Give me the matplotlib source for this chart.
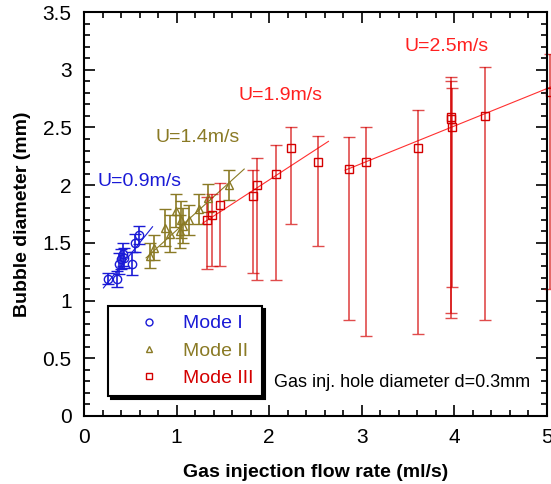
# Bubble diameter vs gas injection flow rate, three bubbling modes with fit lines.

import matplotlib.pyplot as plt
from matplotlib.lines import Line2D
from matplotlib.ticker import MultipleLocator

plt.rcParams['font.family'] = ['Liberation Sans', 'DejaVu Sans']

# Mode I (U=0.9m/s)
m1_x = [0.26, 0.36, 0.38, 0.40, 0.42, 0.43, 0.52, 0.55, 0.59]
m1_y = [1.19, 1.19, 1.32, 1.36, 1.40, 1.37, 1.32, 1.50, 1.57]
m1_err = [0.05, 0.07, 0.09, 0.09, 0.10, 0.09, 0.10, 0.08, 0.08]

# Mode II (U=1.4m/s)
m2_x = [0.71, 0.76, 0.87, 0.93, 0.99, 1.04, 1.05, 1.07, 1.13, 1.24, 1.34, 1.57]
m2_y = [1.39, 1.46, 1.63, 1.58, 1.78, 1.60, 1.70, 1.65, 1.70, 1.79, 1.89, 2.00]
m2_err = [0.11, 0.11, 0.16, 0.16, 0.14, 0.14, 0.16, 0.15, 0.13, 0.13, 0.12, 0.13]

# Mode III (U=1.9 and 2.5m/s), asymmetric bars
m3_x = [1.33, 1.38, 1.47, 1.83, 1.87, 2.07, 2.23, 2.53, 2.86, 3.05, 3.61,
        3.96, 3.96, 3.97, 4.33, 5.03]
m3_y = [1.70, 1.74, 1.83, 1.91, 2.00, 2.10, 2.32, 2.20, 2.14, 2.20, 2.32,
        2.59, 2.57, 2.50, 2.60, 2.81]
m3_top = [1.90, 1.92, 2.02, 2.13, 2.24, 2.35, 2.50, 2.43, 2.42, 2.50, 2.65,
          2.94, 2.90, 2.84, 3.02, 3.14]
m3_bot = [1.27, 1.30, 1.30, 1.24, 1.18, 1.18, 1.66, 1.47, 0.83, 0.69, 0.71,
          0.89, 0.85, 1.12, 0.83, 1.10]

# fit lines (end points)
fit1_x, fit1_y = [0.21, 0.74], [1.11, 1.64]
fit2_x, fit2_y = [0.67, 1.73], [1.37, 2.14]
fit3a_x, fit3a_y = [1.28, 2.64], [1.67, 2.38]
fit3b_x, fit3b_y = [2.82, 5.07], [2.13, 2.86]

blue = '#1a1ad6'
olive = '#8a7a25'
red = '#d40000'

fig = plt.figure(figsize=(5.51, 4.84), dpi=100)
ax = fig.add_axes([0.1525, 0.1405, 0.8402, 0.8345])

ax.plot(fit1_x, fit1_y, color=blue, lw=0.8)
ax.plot(fit2_x, fit2_y, color=olive, lw=0.8)
ax.plot(fit3a_x, fit3a_y, color='#ff3030', lw=0.8)
ax.plot(fit3b_x, fit3b_y, color='#ff3030', lw=0.8, clip_on=False)

ax.errorbar(m1_x, m1_y, yerr=m1_err, fmt='o', mfc='none', mec=blue, ms=6,
            mew=1.0, ecolor=blue, elinewidth=1.2, capsize=4, capthick=1.2)
ax.errorbar(m2_x, m2_y, yerr=m2_err, fmt='^', mfc='none', mec=olive, ms=6,
            mew=1.0, ecolor=olive, elinewidth=1.2, capsize=4, capthick=1.2)
lo = [y - b for y, b in zip(m3_y, m3_bot)]
hi = [t - y for y, t in zip(m3_y, m3_top)]
eb = ax.errorbar(m3_x, m3_y, yerr=[lo, hi], fmt='s', mfc='none', mec=red, ms=6,
                 mew=1.0, ecolor=red, elinewidth=1.2, capsize=4, capthick=1.2)
for part in eb.lines[1] + eb.lines[2]:
    part.set_alpha(0.7)
    part.set_clip_on(False)
eb.lines[0].set_clip_on(False)

ax.text(0.145, 2.03, 'U=0.9m/s', color=blue, fontsize=14, va='center')
ax.text(0.77, 2.415, 'U=1.4m/s', color=olive, fontsize=14, va='center')
ax.text(1.67, 2.78, 'U=1.9m/s', color='#ff2020', fontsize=14, va='center')
ax.text(3.46, 3.20, 'U=2.5m/s', color='#ff2020', fontsize=14, va='center')
ax.text(2.05, 0.29, 'Gas inj. hole diameter d=0.3mm', color='black',
        fontsize=13, va='center')

ax.set_xlim(0, 5)
ax.set_ylim(0, 3.5)
ax.xaxis.set_major_locator(MultipleLocator(1))
ax.xaxis.set_minor_locator(MultipleLocator(0.2))
ax.yaxis.set_major_locator(MultipleLocator(0.5))
ax.yaxis.set_minor_locator(MultipleLocator(0.1))
ax.set_xticks([0, 1, 2, 3, 4, 5], ['0', '1', '2', '3', '4', '5'])
ax.set_yticks([0, 0.5, 1, 1.5, 2, 2.5, 3, 3.5],
              ['0', '0.5', '1', '1.5', '2', '2.5', '3', '3.5'])
ax.tick_params(which='both', direction='in', top=True, right=True, labelsize=15,
               width=1.2)
ax.tick_params(which='major', length=8, pad=9)
ax.tick_params(which='minor', length=4)
for s in ax.spines.values():
    s.set_linewidth(1.5)

ax.set_xlabel('Gas injection flow rate (ml/s)', fontsize=14, fontweight='bold',
              labelpad=12)
ax.set_ylabel('Bubble diameter (mm)', fontsize=14, fontweight='bold',
              labelpad=8)

handles = [Line2D([], [], ls='none', marker='o', mfc='none', mec=blue, ms=5),
           Line2D([], [], ls='none', marker='^', mfc='none', mec=olive, ms=5),
           Line2D([], [], ls='none', marker='s', mfc='none', mec=red, ms=5)]
leg = ax.legend(handles, ['Mode I', 'Mode II', 'Mode III'], loc='upper left',
                bbox_to_anchor=(0.052, 0.272), borderaxespad=0,
                fancybox=False, shadow={'color': 'black', 'alpha': 1},
                edgecolor='black', fontsize=14,
                handlelength=3.3, handletextpad=0.1, labelspacing=0.5,
                borderpad=0.45)
leg.get_frame().set_linewidth(1.5)
for t, c in zip(leg.get_texts(), [blue, olive, red]):
    t.set_color(c)

fig.savefig('out.png', dpi=100)
